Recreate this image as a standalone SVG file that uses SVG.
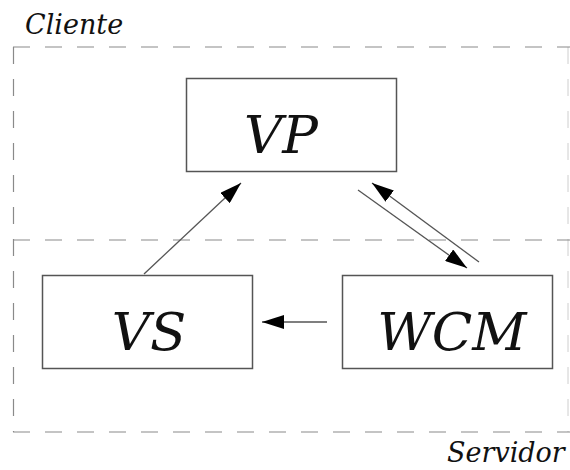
<svg xmlns="http://www.w3.org/2000/svg" width="570" height="470" viewBox="0 0 570 470">
  <style>
    .zone { fill: none; stroke: #8a8a8a; stroke-width: 1.2; stroke-dasharray: 17 15; }
    .box { fill: #ffffff; stroke: #555555; stroke-width: 1.5; }
    .txt { font-family: 'DejaVu Serif', 'Liberation Serif', serif; font-style: italic; fill: #111111; }
    .big { font-size: 53px; text-anchor: middle; }
    .zone-label { font-size: 27px; }
    .link { stroke: #555555; stroke-width: 1.3; fill: none; marker-end: url(#head); }
  </style>
  <defs>
    <marker id="head" viewBox="0 0 22 14" refX="22" refY="7" markerWidth="22" markerHeight="14" markerUnits="userSpaceOnUse" orient="auto">
      <path d="M0,0 L22,7 L0,14 Z" fill="#000000"/>
    </marker>
  </defs>

  <rect width="570" height="470" fill="#ffffff"/>

  <!-- client / server zones -->
  <g id="zones">
    <line class="zone" x1="13" y1="47" x2="570" y2="47"/>
    <line class="zone" x1="13" y1="240" x2="570" y2="240"/>
    <line class="zone" x1="13" y1="432" x2="570" y2="432"/>
    <line class="zone" x1="13.5" y1="47" x2="13.5" y2="432"/>
    <line class="zone" x1="568" y1="47" x2="568" y2="432" stroke-opacity="0.35"/>
    <text class="txt zone-label" x="25" y="34">Cliente</text>
    <text class="txt zone-label" x="447" y="462">Servidor</text>
  </g>

  <g id="node-vp">
    <rect class="box" x="186.5" y="78.5" width="210" height="93"/>
    <text class="txt big" x="281" y="153">VP</text>
  </g>
  <g id="node-vs">
    <rect class="box" x="42.5" y="275.5" width="210" height="93"/>
    <text class="txt big" x="149" y="350">VS</text>
  </g>
  <g id="node-wcm">
    <rect class="box" x="342.5" y="275.5" width="210" height="93"/>
    <text class="txt big" x="452" y="350">WCM</text>
  </g>

  <g id="connectors">
    <line class="link" x1="144" y1="274" x2="241" y2="183"/>
    <line class="link" x1="327" y1="322" x2="262" y2="322"/>
    <line class="link" x1="358" y1="190" x2="467" y2="268"/>
    <line class="link" x1="479" y1="262" x2="372" y2="183"/>
  </g>
</svg>
